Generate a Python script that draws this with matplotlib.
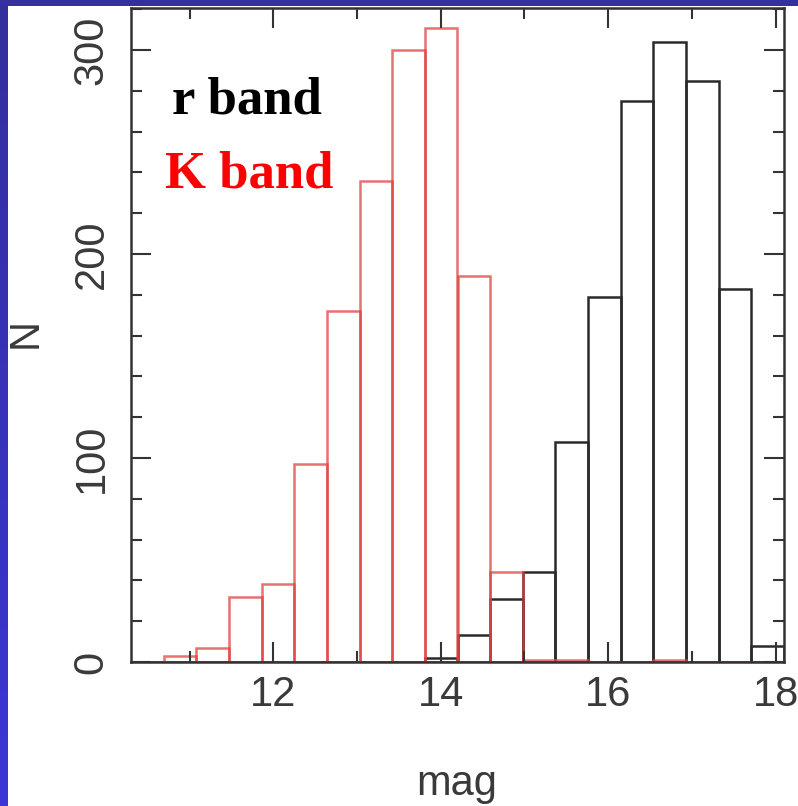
import numpy as np
import matplotlib
matplotlib.use('Agg')
import matplotlib.pyplot as plt
from matplotlib.ticker import MultipleLocator
from matplotlib.colors import LinearSegmentedColormap

# bin edges (mag) and counts per bin
edges = np.linspace(10.3, 18.1, 21)
r_counts = [0, 0, 0, 0, 0, 0, 0, 0, 0, 2, 13, 31, 44, 108, 179, 275, 304, 285, 183, 8]
k_counts = [0, 3, 7, 32, 38, 97, 172, 236, 300, 311, 189, 44, 1, 1, 0, 0, 1, 0, 0, 0]
x_ticks = [12, 14, 16, 18]
y_ticks = [0, 100, 200, 300]

lab_font = ['Liberation Sans', 'DejaVu Sans']
txt_col = '#3a3a3a'

fig = plt.figure(figsize=(7.98, 8.06), dpi=100)
fig.patch.set_facecolor('white')

# blue slide border (left strip with gradient, thin top strip)
bl = fig.add_axes([0, 0, 8 / 798, 1])
grad = np.linspace(0, 1, 256).reshape(-1, 1)
cmap = LinearSegmentedColormap.from_list('b', ['#3c36d6', '#332f9c'])
bl.imshow(grad, aspect='auto', cmap=cmap, origin='lower')
bl.axis('off')
bt = fig.add_axes([0, 1 - 6 / 806, 1, 6 / 806])
bt.set_facecolor('#34309f')
bt.set_xticks([]); bt.set_yticks([])
for s in bt.spines.values():
    s.set_visible(False)

ax = fig.add_axes([131 / 798, 144 / 806, 653 / 798, 654 / 806])
w = edges[1] - edges[0]
ax.bar(edges[:-1], r_counts, width=w, align='edge', fill=False,
       edgecolor='#2a2a2a', linewidth=1.8)
ax.bar(edges[:-1], k_counts, width=w, align='edge', fill=False,
       edgecolor=(0.88, 0.25, 0.25, 0.75), linewidth=1.8)

ax.set_xlim(10.3, 18.1)
ax.set_ylim(0, 320.6)
ax.set_xticks(x_ticks)
ax.set_yticks(y_ticks)
ax.xaxis.set_minor_locator(MultipleLocator(1))
ax.yaxis.set_minor_locator(MultipleLocator(20))
ax.tick_params(which='both', direction='in', top=True, right=True,
               color='#333333', width=1.5)
ax.tick_params(which='major', length=14.5)
ax.tick_params(which='minor', length=8)
ax.tick_params(axis='x', which='major', pad=9)
ax.tick_params(axis='y', which='major', pad=14)
for s in ax.spines.values():
    s.set_linewidth(1.8)
    s.set_color('#333333')

for t in ax.get_xticklabels():
    t.set_fontfamily(lab_font); t.set_fontsize(30); t.set_color(txt_col)
for t in ax.get_yticklabels():
    t.set_fontfamily(lab_font); t.set_fontsize(30); t.set_color(txt_col)
    t.set_rotation(90); t.set_va('center')

fig.text(457 / 798, 11 / 806, 'mag', fontfamily=lab_font, fontsize=30,
         color=txt_col, ha='center', va='baseline')
fig.text(26 / 798, 1 - 333 / 806, 'N', fontfamily=lab_font, fontsize=30,
         color=txt_col, ha='center', va='center', rotation=90)

ax.text(0.0628, 0.839, 'r band', transform=ax.transAxes, fontfamily='Liberation Serif',
        fontweight='bold', fontsize=38, color='black', va='baseline')
ax.text(0.052, 0.725, 'K band', transform=ax.transAxes, fontfamily='Liberation Serif',
        fontweight='bold', fontsize=38, color='red', va='baseline')

fig.savefig('out.png', dpi=100)
